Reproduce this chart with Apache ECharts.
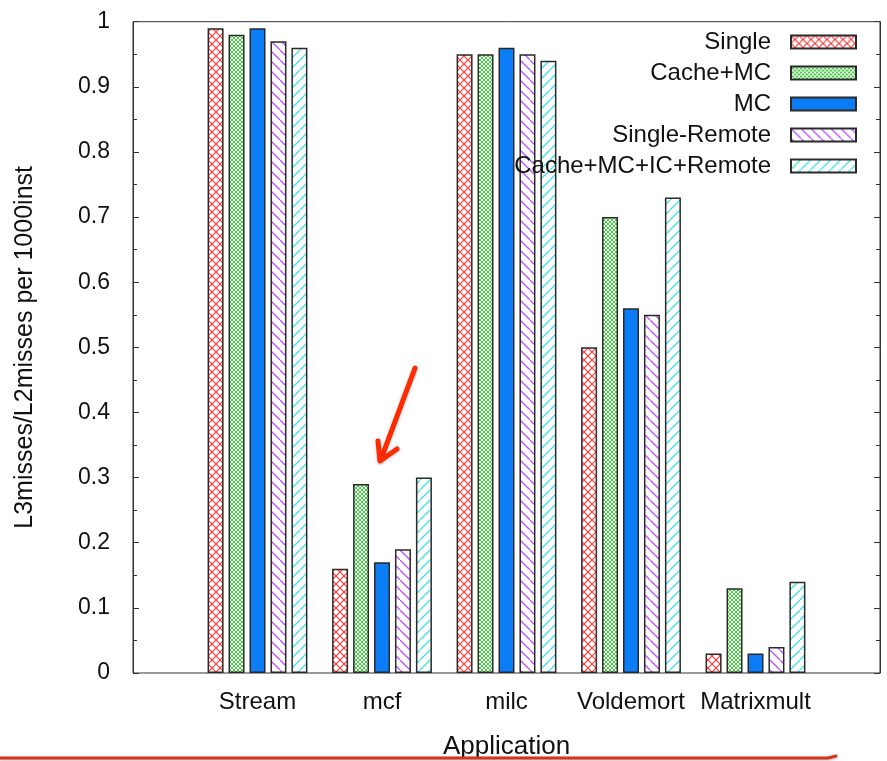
<!DOCTYPE html>
<html>
<head>
<meta charset="utf-8">
<script src="https://cdn.jsdelivr.net/npm/echarts@6.0.0/dist/echarts.min.js"></script>
<style>
  html, body { margin: 0; padding: 0; background: #fff; }
  #main { width: 887px; height: 761px; }
</style>
</head>
<body>
<div id="main"></div>
<script>
// data
var apps = ['Stream', 'mcf', 'milc', 'Voldemort', 'Matrixmult'];
var single       = [0.99, 0.16, 0.95, 0.50, 0.03];
var cacheMC      = [0.98, 0.29, 0.95, 0.70, 0.13];
var mc           = [0.99, 0.17, 0.96, 0.56, 0.03];
var singleRemote = [0.97, 0.19, 0.95, 0.55, 0.04];
var cacheMCICRem = [0.96, 0.30, 0.94, 0.73, 0.14];
var seriesNames = ['Single', 'Cache+MC', 'MC', 'Single-Remote', 'Cache+MC+IC+Remote'];

var FONT = "'Liberation Sans', Arial, sans-serif";

// little canvases used as fill patterns
function pattern(size, draw) {
  var c = document.createElement('canvas');
  c.width = size; c.height = size;
  var ctx = c.getContext('2d');
  ctx.fillStyle = '#fff';
  ctx.fillRect(0, 0, size, size);
  draw(ctx, size);
  return { image: c, repeat: 'repeat' };
}
var crossRed = pattern(8, function (ctx, s) {
  ctx.strokeStyle = '#ff3a3a'; ctx.lineWidth = 1.2;
  ctx.beginPath();
  ctx.moveTo(0, 0); ctx.lineTo(s, s);
  ctx.moveTo(s, 0); ctx.lineTo(0, s);
  ctx.stroke();
});
var crossGreen = pattern(4, function (ctx, s) {
  ctx.strokeStyle = '#3fcf3f'; ctx.lineWidth = 1;
  ctx.beginPath();
  ctx.moveTo(0, 0); ctx.lineTo(s, s);
  ctx.moveTo(s, 0); ctx.lineTo(0, s);
  ctx.stroke();
});
var backPurple = pattern(10, function (ctx, s) {
  ctx.strokeStyle = '#c04cff'; ctx.lineWidth = 1.3;
  ctx.beginPath();
  ctx.moveTo(-1, -1); ctx.lineTo(s + 1, s + 1);
  ctx.stroke();
});
var fwdCyan = pattern(10, function (ctx, s) {
  ctx.strokeStyle = '#3fe0e6'; ctx.lineWidth = 1.3;
  ctx.beginPath();
  ctx.moveTo(-1, s + 1); ctx.lineTo(s + 1, -1);
  ctx.stroke();
});
var fills = [crossRed, crossGreen, '#0b7df6', backPurple, fwdCyan];
var values = [single, cacheMC, mc, singleRemote, cacheMCICRem];

var myChart = echarts.init(document.getElementById('main'), null, { renderer: 'canvas' });

var series = seriesNames.map(function (name, i) {
  return {
    name: name,
    type: 'bar',
    xAxisIndex: 0,
    yAxisIndex: 0,
    barWidth: 16,
    barGap: '31%',
    data: values[i],
    itemStyle: { color: fills[i], borderColor: '#2a2a2a', borderWidth: 1.5 },
    emphasis: { disabled: true }
  };
});

var option = {
  animation: false,
  backgroundColor: '#fff',
  textStyle: { fontFamily: FONT },
  legend: {
    orient: 'vertical',
    align: 'right',
    right: 25,
    top: 25,
    itemWidth: 65,
    itemHeight: 13,
    itemGap: 7,
    icon: 'rect',
    selectedMode: false,
    textStyle: { fontFamily: FONT, fontSize: 24, color: '#111', lineHeight: 24, padding: [0, 15, 0, 0] },
    data: seriesNames
  },
  grid: [
    // bars: five category bands inside the frame (one spare band each side)
    { left: 195.25, right: 69.25, top: 21.7, bottom: 88, outerBoundsMode: 'none' },
    // frame with the value axis
    { left: 133, right: 7, top: 21.7, bottom: 88, outerBoundsMode: 'none', show: true, borderColor: '#333', borderWidth: 1 }
  ],
  xAxis: [
    {
      type: 'category', gridIndex: 0, data: apps,
      axisLine: { show: false }, axisTick: { show: false },
      axisLabel: { fontFamily: FONT, fontSize: 24, color: '#111', margin: 17, interval: 0 },
      name: 'Application', nameLocation: 'middle', nameGap: 61,
      nameTextStyle: { fontFamily: FONT, fontSize: 26, color: '#111' }
    },
    { type: 'value', gridIndex: 1, show: false, min: 0, max: 1 }
  ],
  yAxis: [
    { type: 'value', gridIndex: 0, min: 0, max: 1, show: false },
    {
      type: 'value', gridIndex: 1, min: 0, max: 1, interval: 0.1, position: 'left',
      axisLine: { show: true, lineStyle: { color: '#333' } },
      axisTick: { show: true, inside: true, length: 6, lineStyle: { color: '#333' } },
      minorTick: { show: true, splitNumber: 2, length: 4, lineStyle: { color: '#333' } },
      splitLine: { show: false },
      axisLabel: { fontFamily: FONT, fontSize: 23, color: '#111', margin: 23 },
      name: 'L3misses/L2misses per 1000inst', nameLocation: 'middle', nameGap: 95,
      nameTextStyle: { fontFamily: FONT, fontSize: 25, color: '#111' }
    },
    {
      type: 'value', gridIndex: 1, min: 0, max: 1, interval: 0.1, position: 'right',
      axisLine: { show: true, lineStyle: { color: '#333' } },
      axisTick: { show: true, inside: true, length: 6, lineStyle: { color: '#333' } },
      minorTick: { show: true, splitNumber: 2, length: 4, lineStyle: { color: '#333' } },
      splitLine: { show: false },
      axisLabel: { show: false }
    }
  ],
  graphic: [
    // red annotation arrow pointing at mcf
    {
      type: 'polyline', z: 100,
      shape: { points: [[415, 368], [381, 459]] },
      style: { stroke: '#ff2a00', lineWidth: 5, lineCap: 'round', shadowBlur: 3, shadowColor: 'rgba(0,0,0,0.25)', shadowOffsetY: 1 }
    },
    {
      type: 'polyline', z: 100,
      shape: { points: [[378, 441], [380, 461], [397, 449]] },
      style: { stroke: '#ff2a00', fill: null, lineWidth: 5, lineCap: 'round', lineJoin: 'round', shadowBlur: 3, shadowColor: 'rgba(0,0,0,0.25)', shadowOffsetY: 1 }
    },
    // red rule along the bottom of the slide
    {
      type: 'polyline', z: 100,
      shape: { points: [[0, 758], [828, 758], [836, 756]] },
      style: { stroke: '#d8321c', fill: null, lineWidth: 3, lineCap: 'round', shadowBlur: 3, shadowColor: 'rgba(0,0,0,0.3)', shadowOffsetY: 1 }
    }
  ],
  series: series
};

myChart.setOption(option);
</script>
</body>
</html>
